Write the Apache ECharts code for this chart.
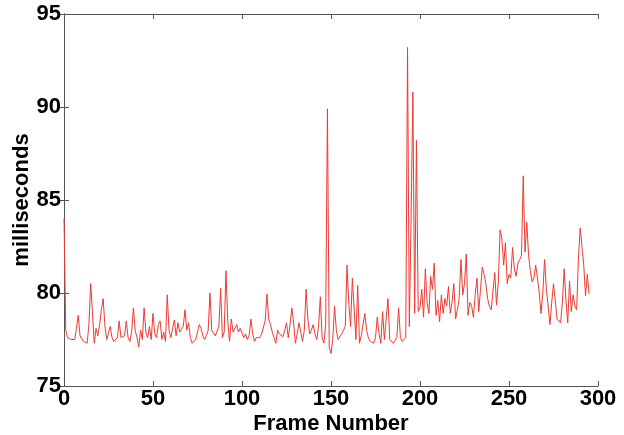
<!DOCTYPE html>
<html>
<head>
<meta charset="utf-8">
<script src="https://cdn.jsdelivr.net/npm/echarts@6/dist/echarts.min.js"></script>
<style>
html,body{margin:0;padding:0;background:#fff;}
#chart{width:624px;height:435px;}
</style>
</head>
<body>
<div id="chart"></div>
<script>
// frame-time values (ms), one per frame starting at frame 0
const frameTimes = [
84.0,78.0,77.6,77.7,77.5,77.6,77.5,78.1,78.8,77.7,
77.6,77.4,77.5,77.3,78.3,80.5,78.9,77.3,78.1,77.7,
78.3,79.1,79.7,78.2,77.5,77.4,78.2,77.6,77.4,77.5,
77.6,78.5,77.6,77.5,77.7,78.5,77.6,77.4,77.9,79.2,
78.0,77.6,77.1,78.0,77.5,79.2,77.9,77.6,78.2,77.5,
78.9,77.8,77.6,78.3,78.5,77.5,77.9,77.4,79.9,78.0,
77.6,77.5,78.55,77.7,78.4,77.9,77.85,78.2,79.1,78.0,
78.4,77.6,77.3,77.4,77.5,77.6,78.3,78.1,77.7,77.5,
77.7,78.0,80.0,78.0,77.9,77.7,77.6,78.2,80.25,77.6,
77.9,81.2,78.5,77.4,78.6,77.9,77.8,78.3,77.9,78.1,
78.1,77.6,77.8,77.5,77.7,78.6,77.8,77.4,77.6,77.7,
77.6,77.8,77.9,78.5,79.95,78.6,78.3,77.9,77.6,77.3,
78.0,77.8,77.9,77.65,78.0,78.4,77.6,78.3,79.2,78.4,
77.3,77.8,78.4,77.9,77.4,78.0,80.2,78.6,77.8,78.0,
78.3,77.8,77.5,78.2,79.8,77.6,77.3,78.3,89.9,77.1,
76.75,77.5,79.3,78.0,77.5,77.6,77.8,77.7,78.2,81.5,
79.45,78.2,80.8,80.75,77.5,80.4,77.3,77.7,77.8,78.9,
78.0,77.6,77.4,77.3,77.3,77.6,78.7,77.8,77.3,79.0,
77.5,77.6,79.7,77.5,77.4,77.3,77.4,77.6,79.2,77.6,
77.4,77.5,77.6,93.2,78.2,84.0,90.8,78.9,88.2,79.0,
79.2,80.2,78.7,81.3,79.5,78.9,80.9,80.2,81.6,78.8,
79.6,78.45,79.9,78.9,79.7,79.3,80.35,78.9,79.5,80.5,
78.6,79.1,79.7,81.8,79.9,80.5,82.1,78.8,79.5,79.3,
78.7,79.9,80.8,79.0,80.2,81.4,81.0,80.5,79.7,79.3,
79.1,79.2,81.1,79.35,80.6,83.4,82.9,81.5,82.7,80.5,
81.0,80.8,82.45,81.3,80.9,81.6,81.8,82.0,86.3,82.2,
83.8,82.0,81.2,80.6,80.8,81.5,80.8,80.0,78.9,80.0,
81.8,80.2,79.3,78.3,79.5,80.5,79.6,78.6,78.5,78.4,
79.5,81.3,79.6,78.4,80.65,79.0,79.9,79.3,79.1,81.8,
83.5,82.5,81.5,79.85,81.0,79.95
];
const xTicks = [0,50,100,150,200,250,300];
const yTicks = [75,80,85,90,95];
const xTitle = 'Frame Number';
const yTitle = 'milliseconds';

const seriesData = frameTimes.map((v,i)=>[i,v]);
const FONT = 'Liberation Sans, Arial, Helvetica, sans-serif';
const labelFont = {fontFamily:FONT, fontWeight:'bold', fontSize:22, color:'#000'};
const axisLine = {show:true, lineStyle:{color:'#555', width:1}};

const chart = echarts.init(document.getElementById('chart'), null, {renderer:'canvas'});
chart.setOption({
  animation:false,
  backgroundColor:'#fff',
  grid:{left:64, right:26, top:14, bottom:49, containLabel:false, outerBoundsMode:'none'},
  xAxis:[{
    type:'value', min:xTicks[0], max:xTicks[xTicks.length-1], interval:50,
    axisLine:axisLine,
    axisTick:{show:true, inside:true, length:5, lineStyle:{color:'#555'}},
    axisLabel:Object.assign({margin:2, lineHeight:21}, labelFont),
    splitLine:{show:false},
    name:xTitle, nameLocation:'middle', nameGap:27, nameMoveOverlap:false,
    nameTextStyle:{fontFamily:FONT, fontWeight:'bold', fontSize:22, color:'#000'}
  },{
    type:'value', position:'top', min:0, max:300, interval:50,
    axisLine:axisLine,
    axisTick:{show:true, inside:true, length:5, lineStyle:{color:'#555'}},
    axisLabel:{show:false}, splitLine:{show:false}
  }],
  yAxis:[{
    type:'value', min:yTicks[0], max:yTicks[yTicks.length-1], interval:5,
    axisLine:axisLine,
    axisTick:{show:true, inside:true, length:5, lineStyle:{color:'#555'}},
    axisLabel:Object.assign({margin:3}, labelFont),
    splitLine:{show:false},
    name:yTitle, nameLocation:'middle', nameGap:31, nameRotate:90, nameMoveOverlap:false,
    nameTextStyle:{fontFamily:FONT, fontWeight:'bold', fontSize:22, color:'#000'}
  },{
    type:'value', position:'right', min:75, max:95, interval:5,
    axisLine:axisLine,
    axisTick:{show:true, inside:true, length:5, lineStyle:{color:'#555'}},
    axisLabel:{show:false}, splitLine:{show:false}
  }],
  series:[{
    type:'line', data:seriesData, xAxisIndex:0, yAxisIndex:0,
    showSymbol:false, symbol:'none',
    lineStyle:{color:'#ee3a32', width:1},
    silent:true
  }]
});
</script>
</body>
</html>
